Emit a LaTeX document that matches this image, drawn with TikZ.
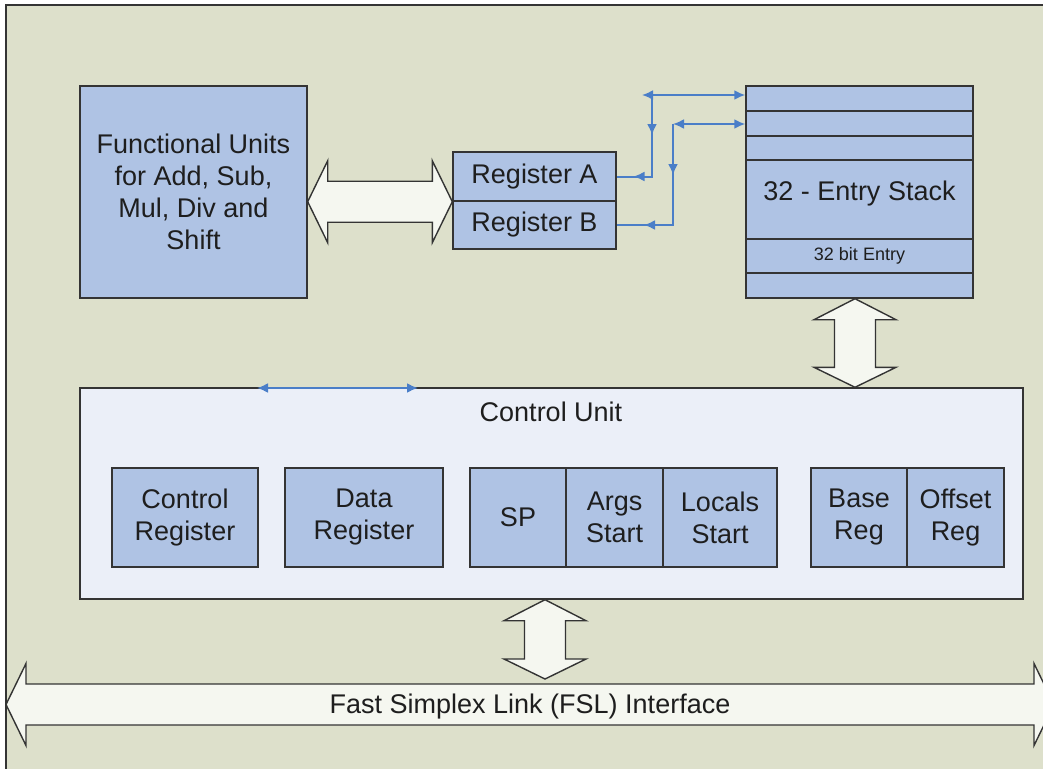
\documentclass[tikz,border=0pt]{standalone}
\usepackage{fontspec}
\setmainfont{Liberation Sans}
\usetikzlibrary{arrows.meta,calc,decorations.markings}

\definecolor{bgcol}{RGB}{221,224,203}
\definecolor{boxblue}{RGB}{175,195,228}
\definecolor{cufill}{RGB}{235,239,248}
\definecolor{arrowfill}{RGB}{245,247,240}
\definecolor{edge}{RGB}{52,52,52}
\definecolor{linkblue}{RGB}{74,126,200}
\definecolor{txt}{RGB}{30,30,30}

\newcommand\bigfont{\fontsize{27}{32}\selectfont}
\newcommand\smallfont{\fontsize{18}{22}\selectfont}

% double-headed block arrow, horizontal: left tip, right tip
\newcommand\hblockarrow[2]{%
  \draw[blockarrow] let \p1=(#1), \p2=(#2) in
    (\x1,\y1) -- (\x1+20pt,\y1+41pt) -- (\x1+20pt,\y1+20.5pt) -- (\x2-20pt,\y1+20.5pt)
    -- (\x2-20pt,\y1+41pt) -- (\x2,\y1) -- (\x2-20pt,\y1-41pt) -- (\x2-20pt,\y1-20.5pt)
    -- (\x1+20pt,\y1-20.5pt) -- (\x1+20pt,\y1-41pt) -- cycle;}
% double-headed block arrow, vertical: top tip, bottom tip
\newcommand\vblockarrow[2]{%
  \draw[blockarrow] let \p1=(#1), \p2=(#2) in
    (\x1,\y1) -- (\x1+41pt,\y1-21pt) -- (\x1+20.5pt,\y1-21pt) -- (\x1+20.5pt,\y2+20pt)
    -- (\x1+41pt,\y2+20pt) -- (\x1,\y2) -- (\x1-41pt,\y2+20pt) -- (\x1-20.5pt,\y2+20pt)
    -- (\x1-20.5pt,\y1-21pt) -- (\x1-41pt,\y1-21pt) -- cycle;}

\begin{document}
\begin{tikzpicture}[x=1pt,y=-1pt,
  box/.style={draw=edge, fill=boxblue, line width=1.4pt, inner sep=0pt,
    align=center, font=\bigfont, text=txt},
  row/.style={box, minimum width=227pt},
  label/.style={font=\bigfont, text=txt, inner sep=0pt},
  blockarrow/.style={draw=edge, fill=arrowfill, line width=1.4pt, line join=miter},
  link/.style={draw=linkblue, line width=2pt},
  midarrows/.style 2 args={postaction={decorate}, decoration={markings,
    mark=at position #1 with {\arrow{Latex[length=11pt,width=10pt]}},
    mark=at position #2 with {\arrow{Latex[length=11pt,width=10pt]}}}}]

\useasboundingbox (0,0) rectangle (1043,768);
\clip (0,0) rectangle (1043,768);

% panel background
\draw[draw=edge, fill=bgcol, line width=1.5pt] (6,5) rectangle (1070,790);

% functional units and registers
\node[box, minimum width=227pt, minimum height=212pt] (fu) at (193.5,192)
  {Functional Units\\for Add, Sub,\\Mul, Div and\\Shift};
\node[box, minimum width=163pt, minimum height=49pt] (rega) at (534.5,176.5) {Register A};
\node[box, minimum width=163pt, minimum height=48pt] (regb) at (534.5,225) {Register B};

% 32-entry stack
\node[row, minimum height=25pt] (s1) at (859.5,98.5) {};
\node[row, minimum height=25pt] (s2) at (859.5,123.5) {};
\node[row, minimum height=24pt] (s3) at (859.5,148) {};
\node[row, minimum height=79pt] (s4) at (859.5,199.5) {};
\node[row, minimum height=34pt, font=\smallfont] (s5) at (859.5,256) {32 bit Entry};
\node[row, minimum height=25pt] (s6) at (859.5,285.5) {};
\node[label, anchor=base] (stacklabel) at (859.5,200.5) {32 - Entry Stack};

% control unit
\node[draw=edge, fill=cufill, line width=1.4pt, minimum width=943pt,
  minimum height=211pt, inner sep=0pt] (cu) at (551.5,493.5) {};
\node[label, anchor=base] (culabel) at (551,421.5) {Control Unit};

\node[box, minimum width=146pt, minimum height=99pt] (ctrl) at (185,517.5) {Control\\Register};
\node[box, minimum width=158pt, minimum height=99pt] (data) at (364,517.5) {Data\\Register};
\node[box, minimum width=96pt, minimum height=99pt] (sp) at (518,517.5) {SP};
\node[box, minimum width=97pt, minimum height=99pt] (args) at (614.5,517.5) {Args\\Start};
\node[box, minimum width=114pt, minimum height=99pt] (locals) at (720,517.5) {Locals\\Start};
\node[box, minimum width=96pt, minimum height=99pt] (base) at (859,517.5) {Base\\Reg};
\node[box, minimum width=97pt, minimum height=99pt] (offset) at (955.5,517.5) {Offset\\Reg};

% block arrows
\hblockarrow{fu.east |- rega.south}{rega.south -| rega.west}
\coordinate (stk) at ($(s6.south)+(-4.5,0)$);
\vblockarrow{stk}{stk |- cu.north}
\coordinate (cuout) at ($(cu.south)+(-6.5,0)$);
\coordinate (fslin) at (545,679);
\vblockarrow{cuout}{fslin}
\coordinate (fslL) at (6,704.5);
\coordinate (fslR) at (1054,704.5);
\hblockarrow{fslL}{fslR}
\node[label, anchor=base] (fsltext) at (530,713.5) {Fast Simplex Link (FSL) Interface};

% links between registers and stack
\coordinate (a1) at (642,95);
\coordinate (j1) at (652,95);
\coordinate (j2) at (673,124);
\draw[link, {Latex[length=11pt,width=10pt]}-{Latex[length=11pt,width=10pt]}] (a1) -- (a1 -| s1.west);
\draw[link, {Latex[length=11pt,width=10pt]}-{Latex[length=11pt,width=10pt]}] (j2) -- (j2 -| s2.west);
\draw[link, midarrows={40pt}{100pt}] (j1) |- (rega.east);
\draw[link, midarrows={51pt}{130pt}] (j2) |- (regb.east);

% link on the control unit edge
\coordinate (cua) at (257,388);
\coordinate (cub) at (418,388);
\draw[link, {Latex[length=11pt,width=10pt]}-{Latex[length=11pt,width=10pt]}] (cua) -- (cub);

\end{tikzpicture}
\end{document}
